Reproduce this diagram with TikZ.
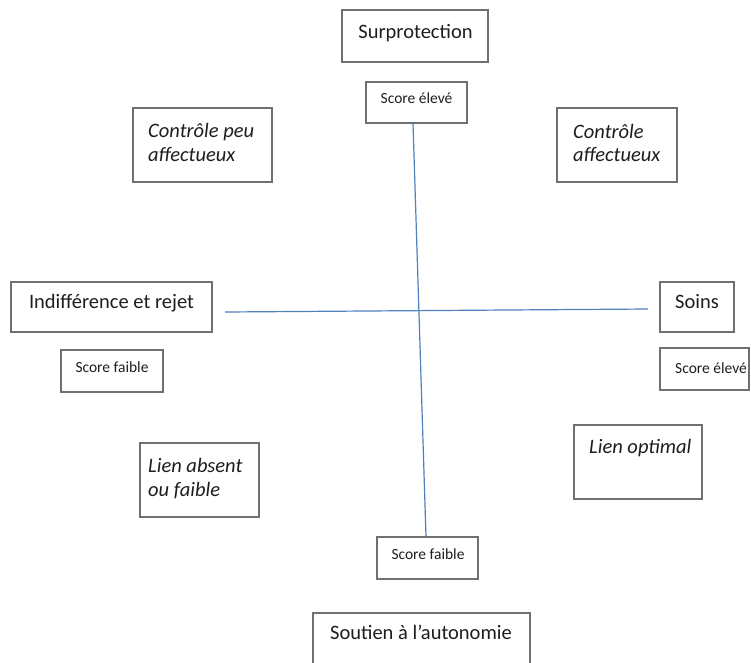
\documentclass[tikz,border=0pt]{standalone}
\usepackage{fontspec}
\setmainfont{Carlito}
\definecolor{boxline}{RGB}{112,112,112}
\definecolor{axisblue}{RGB}{79,129,189}
\definecolor{txt}{RGB}{30,30,30}
\begin{document}
\begin{tikzpicture}[x=1pt,y=-1pt,
  frame/.style={draw=boxline, line width=1.2pt, inner sep=0pt, fill=white},
  big/.style={font=\fontsize{20.5}{25}\selectfont, text=txt, inner sep=0pt, anchor=base},
  bigit/.style={font=\fontsize{20.5}{25}\selectfont\itshape, text=txt, inner sep=0pt, anchor=base west},
  small/.style={font=\fontsize{15.5}{18}\selectfont, text=txt, inner sep=0pt, anchor=base},
  axisline/.style={draw=axisblue, line width=1.2pt}]
\useasboundingbox[fill=white] (0,0) rectangle (751,662);

% boxes
\node[frame, minimum width=146, minimum height=52] (surB) at (415,36) {};
\node[frame, minimum width=101, minimum height=41] (sctB) at (416.5,102.5) {};
\node[frame, minimum width=139, minimum height=74] (cpaB) at (202.5,145) {};
\node[frame, minimum width=120, minimum height=74] (caB) at (617,145) {};
\node[frame, minimum width=201, minimum height=50] (irB) at (111.5,307) {};
\node[frame, minimum width=102, minimum height=42] (sflB) at (112,371) {};
\node[frame, minimum width=74, minimum height=50] (soB) at (697,307) {};
\node[frame, minimum width=89, minimum height=42] (serB) at (704.5,369) {};
\node[frame, minimum width=119, minimum height=74] (laB) at (199.5,480) {};
\node[frame, minimum width=128, minimum height=74] (loB) at (638,462) {};
\node[frame, minimum width=101, minimum height=42] (sfbB) at (427.5,558) {};
\node[frame, minimum width=217, minimum height=72] (saB) at (421.5,649) {};

% axes
\coordinate (vTop) at (413,123);
\coordinate (vBot) at (426,537);
\coordinate (hL) at (225,312);
\coordinate (hR) at (648,309);
\draw[axisline] (vTop) -- (vBot);
\draw[axisline] (hL) -- (hR);

% texts
\node[big] (surT) at (415.5,38) {Surprotection};
\node[small] (sctT) at (416.5,103) {Score élevé};
\node[bigit] (cpaT1) at (148,137) {Contrôle peu};
\node[bigit] (cpaT2) at (148,161) {affectueux};
\node[bigit] (caT1) at (573,138) {Contrôle};
\node[bigit] (caT2) at (573,161) {affectueux};
\node[big] (irT) at (111.5,308) {Indifférence et rejet};
\node[small] (sflT) at (112,372) {Score faible};
\node[big] (soT) at (697,308) {Soins};
\node[small] (serT) at (711,373) {Score élevé};
\node[bigit] (laT1) at (148,472) {Lien absent};
\node[bigit] (laT2) at (148,496) {ou faible};
\node[bigit] (loT) at (589,453) {Lien optimal};
\node[small] (sfbT) at (428,559) {Score faible};
\node[big] (saT) at (421,639) {Soutien à l’autonomie};
\end{tikzpicture}
\end{document}
